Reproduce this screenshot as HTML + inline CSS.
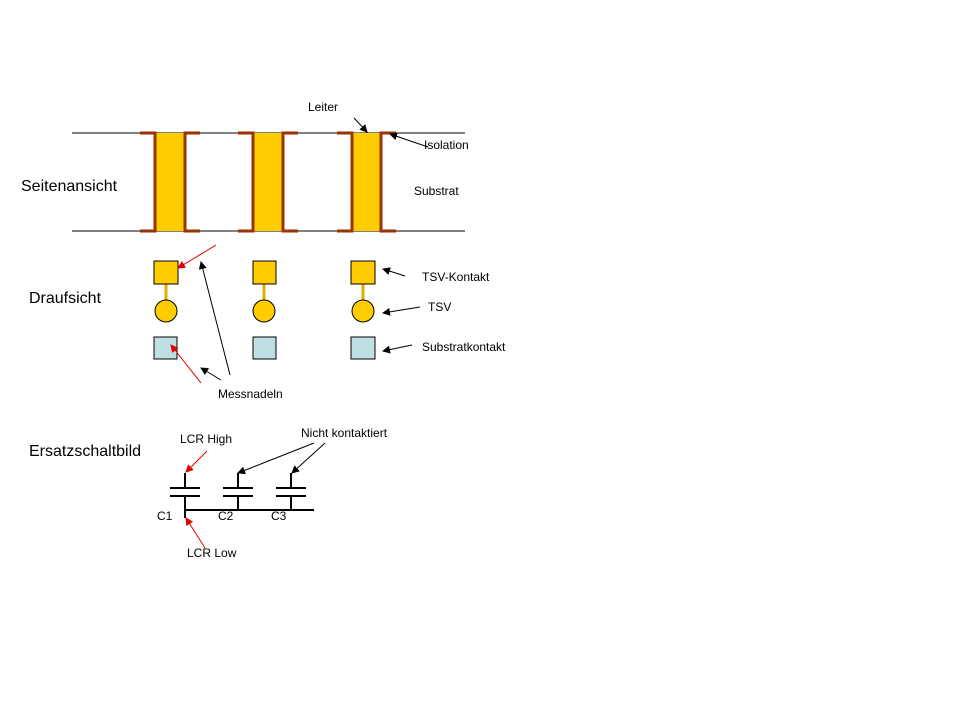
<!DOCTYPE html>
<html><head><meta charset="utf-8"><style>
body{margin:0;background:#fff}
svg text{font-family:"Liberation Sans",sans-serif;fill:#000}
</style></head><body>
<svg width="960" height="720" xmlns="http://www.w3.org/2000/svg">
<defs>
<marker id="ab" markerWidth="8" markerHeight="8" refX="7" refY="4" orient="auto" markerUnits="userSpaceOnUse"><path d="M0,0L8,4L0,8z" fill="#000"/></marker>
<marker id="ar" markerWidth="8" markerHeight="8" refX="7" refY="4" orient="auto" markerUnits="userSpaceOnUse"><path d="M0,0L8,4L0,8z" fill="#e00000"/></marker>
</defs>
<line x1="72" y1="133" x2="465" y2="133" stroke="#000" stroke-width="1"/>
<line x1="72" y1="231" x2="465" y2="231" stroke="#000" stroke-width="1"/>
<g stroke="#993300" stroke-width="3" fill="none">
<rect x="155" y="133" width="30" height="98" fill="#ffcc00" stroke="none"/>
<rect x="253" y="133" width="30" height="98" fill="#ffcc00" stroke="none"/>
<rect x="352" y="133" width="29" height="98" fill="#ffcc00" stroke="none"/>
<path d="M140,133H155V231H140M200,133H185V231H200"/>
<path d="M238,133H253V231H238M298,133H283V231H298"/>
<path d="M337,133H352V231H337M396,133H381V231H396"/>
</g>
<g stroke="#000" stroke-width="1">
<line x1="166" y1="284" x2="166" y2="300" stroke="#e0b000" stroke-width="3"/>
<line x1="264" y1="284" x2="264" y2="300" stroke="#e0b000" stroke-width="3"/>
<line x1="363" y1="284" x2="363" y2="300" stroke="#e0b000" stroke-width="3"/>
<rect x="154" y="261" width="24" height="23" fill="#ffcc00"/>
<rect x="253" y="261" width="23" height="23" fill="#ffcc00"/>
<rect x="351" y="261" width="24" height="23" fill="#ffcc00"/>
<circle cx="166" cy="311" r="11" fill="#ffcc00"/>
<circle cx="264" cy="311" r="11" fill="#ffcc00"/>
<circle cx="363" cy="311" r="11" fill="#ffcc00"/>
<rect x="154" y="337" width="23" height="22" fill="#bfdfe2"/>
<rect x="253" y="337" width="23" height="22" fill="#bfdfe2"/>
<rect x="351" y="337" width="24" height="22" fill="#bfdfe2"/>
</g>
<g stroke="#000" stroke-width="1" marker-end="url(#ab)">
<line x1="354" y1="118" x2="367" y2="132"/>
<line x1="428" y1="147" x2="390" y2="134"/>
<line x1="230" y1="375" x2="201" y2="262"/>
<line x1="221" y1="380" x2="201" y2="368"/>
<line x1="405" y1="276" x2="383" y2="269"/>
<line x1="420" y1="307" x2="383" y2="313"/>
<line x1="412" y1="345" x2="383" y2="351"/>
<line x1="314" y1="443" x2="238" y2="473"/>
<line x1="325" y1="443" x2="292" y2="473"/>
</g>
<g stroke="#e00000" stroke-width="1" marker-end="url(#ar)">
<line x1="216" y1="245" x2="178" y2="268"/>
<line x1="201" y1="383" x2="171" y2="345"/>
<line x1="207" y1="451" x2="186" y2="472"/>
<line x1="205" y1="548" x2="186" y2="518"/>
</g>
<g stroke="#000" stroke-width="2">
<path d="M185,473V488M170,488H200M170,496H200M185,496V518"/>
<path d="M238,473V488M223,488H253M223,496H253M238,496V510"/>
<path d="M291,473V488M276,488H306M276,496H306M291,496V510"/>
<line x1="185" y1="510" x2="314" y2="510"/>
</g>
<g font-size="12">
<text x="308" y="111">Leiter</text>
<text x="424" y="149">Isolation</text>
<text x="414" y="195">Substrat</text>
<text x="422" y="281">TSV-Kontakt</text>
<text x="428" y="311">TSV</text>
<text x="422" y="351">Substratkontakt</text>
<text x="218" y="398">Messnadeln</text>
<text x="180" y="443">LCR High</text>
<text x="301" y="437">Nicht kontaktiert</text>
<text x="157" y="520">C1</text>
<text x="218" y="520">C2</text>
<text x="271" y="520">C3</text>
<text x="187" y="557">LCR Low</text>
</g>
<g font-size="16">
<text x="21" y="191">Seitenansicht</text>
<text x="29" y="303">Draufsicht</text>
<text x="29" y="456">Ersatzschaltbild</text>
</g>
</svg>
</body></html>
